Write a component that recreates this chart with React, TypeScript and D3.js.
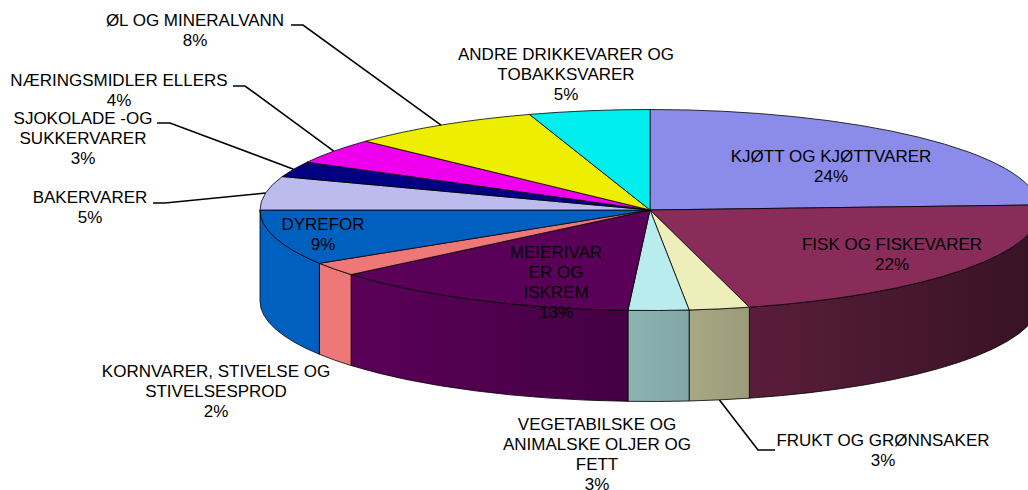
import React from "react";
import * as d3 from "d3";

const categories = [
  "KJØTT OG KJØTTVARER",
  "FISK OG FISKEVARER",
  "FRUKT OG GRØNNSAKER",
  "VEGETABILSKE OG ANIMALSKE OLJER OG FETT",
  "MEIERIVARER OG ISKREM",
  "KORNVARER, STIVELSE OG STIVELSESPROD",
  "DYREFOR",
  "BAKERVARER",
  "SJOKOLADE -OG SUKKERVARER",
  "NÆRINGSMIDLER ELLERS",
  "ØL OG MINERALVANN",
  "ANDRE DRIKKEVARER OG TOBAKKSVARER",
];
const values = [24.2, 21.7, 2.5, 2.5, 13, 2.2, 8.9, 5.4, 2.5, 4.1, 8, 5];
const percentLabels = ["24%", "22%", "3%", "3%", "13%", "2%", "9%", "5%", "3%", "4%", "8%", "5%"];
const colors = [
  "#8b8bea", "#8a2c5a", "#eeeebb", "#b9ecec", "#5a0058", "#ee7878",
  "#0060c0", "#bbbbee", "#000080", "#ee00ee", "#eeee00", "#00eeee",
];
const labelLines = [
  ["KJØTT OG KJØTTVARER"],
  ["FISK OG FISKEVARER"],
  ["FRUKT OG GRØNNSAKER"],
  ["VEGETABILSKE OG", "ANIMALSKE OLJER OG", "FETT"],
  ["MEIERIVAR", "ER OG", "ISKREM"],
  ["KORNVARER, STIVELSE OG", "STIVELSESPROD"],
  ["DYREFOR"],
  ["BAKERVARER"],
  ["SJOKOLADE -OG", "SUKKERVARER"],
  ["NÆRINGSMIDLER ELLERS"],
  ["ØL OG MINERALVANN"],
  ["ANDRE DRIKKEVARER OG", "TOBAKKSVARER"],
];
// label centre x, first baseline y
const labelPos: [number, number][] = [
  [831, 162], [892, 250], [883, 446], [597, 429.5], [556, 258], [216, 376.5],
  [323, 230], [90, 203], [83, 124], [119, 86], [195, 26], [566, 60],
];
// leader: horizontal stub [x0, x1, y], slices without entry have no leader
const leaders: ([number, number, number] | null)[] = [
  null, null, [775, 758, 450], null, null, null, null,
  [153, 165, 203], [157, 170, 123], [233, 245, 86], [291, 303, 25], null,
];

const WIDTH = 1028, HEIGHT = 490;
const cx = 650, cy = 210, rx = 390, ry = 100.5, depth = 91;
const shade = d3.scaleLinear().domain([350, 1040]).range([1, 0.4]).clamp(true);

const pt = (t: number, dy = 0): [number, number] => [cx + rx * Math.sin(t), cy - ry * Math.cos(t) + dy];
const f = (p: [number, number]) => `${p[0].toFixed(2)},${p[1].toFixed(2)}`;
const shadeColor = (c: string, x: number) => {
  const r = d3.rgb(c), k = shade(x);
  return d3.rgb(r.r * k, r.g * k, r.b * k).formatHex();
};

export default function App() {
  const arcs = d3.pie<number>().sort(null)(values);
  const PI = Math.PI;

  const walls = arcs.map((a, i) => {
    const s = Math.max(a.startAngle, PI / 2), e = Math.min(a.endAngle, (3 * PI) / 2);
    if (e <= s) return null;
    const p0 = pt(s), p1 = pt(e), p2 = pt(e, depth), p3 = pt(s, depth);
    const large = e - s > PI ? 1 : 0;
    const d = `M${f(p0)}A${rx},${ry} 0 ${large} 1 ${f(p1)}L${f(p2)}A${rx},${ry} 0 ${large} 0 ${f(p3)}Z`;
    const xa = Math.min(p0[0], p1[0]), xb = Math.max(p0[0], p1[0]);
    return { i, d, xa, xb };
  });

  const tops = arcs.map((a) => {
    const p0 = pt(a.startAngle), p1 = pt(a.endAngle);
    const large = a.endAngle - a.startAngle > PI ? 1 : 0;
    return `M${cx},${cy}L${f(p0)}A${rx},${ry} 0 ${large} 1 ${f(p1)}Z`;
  });

  return (
    <svg width={WIDTH} height={HEIGHT} style={{ position: "absolute", left: 0, top: 0, background: "#fff" }}>
      <defs>
        {walls.map((w) =>
          w ? (
            <linearGradient key={w.i} id={`wall${w.i}`} gradientUnits="userSpaceOnUse" x1={w.xa} x2={w.xb} y1={0} y2={0}>
              <stop offset="0" stopColor={shadeColor(colors[w.i], w.xa)} />
              <stop offset="1" stopColor={shadeColor(colors[w.i], w.xb)} />
            </linearGradient>
          ) : null
        )}
      </defs>
      <g stroke="#000" strokeWidth={0.8} strokeLinejoin="round">
        {walls.map((w) => (w ? <path key={w.i} d={w.d} fill={`url(#wall${w.i})`} /> : null))}
        {tops.map((d, i) => (
          <path key={categories[i]} d={d} fill={colors[i]} />
        ))}
      </g>
      <g stroke="#000" strokeWidth={1.6} fill="none">
        {arcs.map((a, i) => {
          const l = leaders[i];
          if (!l) return null;
          const mid = (a.startAngle + a.endAngle) / 2;
          const front = mid > PI / 2 && mid < (3 * PI) / 2;
          const end = pt(mid, front ? depth : 0);
          return <polyline key={i} points={`${l[0]},${l[2]} ${l[1]},${l[2]} ${f(end)}`} />;
        })}
      </g>
      <g fontFamily="'Liberation Sans', Arial, sans-serif" fontSize={17} fill="#000" textAnchor="middle">
        {labelLines.map((lines, i) => {
          const [x, y] = labelPos[i];
          return (
            <text key={i} x={x} y={y}>
              {[...lines, percentLabels[i]].map((t, j) => (
                <tspan key={j} x={x} dy={j === 0 ? 0 : 20}>
                  {t}
                </tspan>
              ))}
            </text>
          );
        })}
      </g>
    </svg>
  );
}
